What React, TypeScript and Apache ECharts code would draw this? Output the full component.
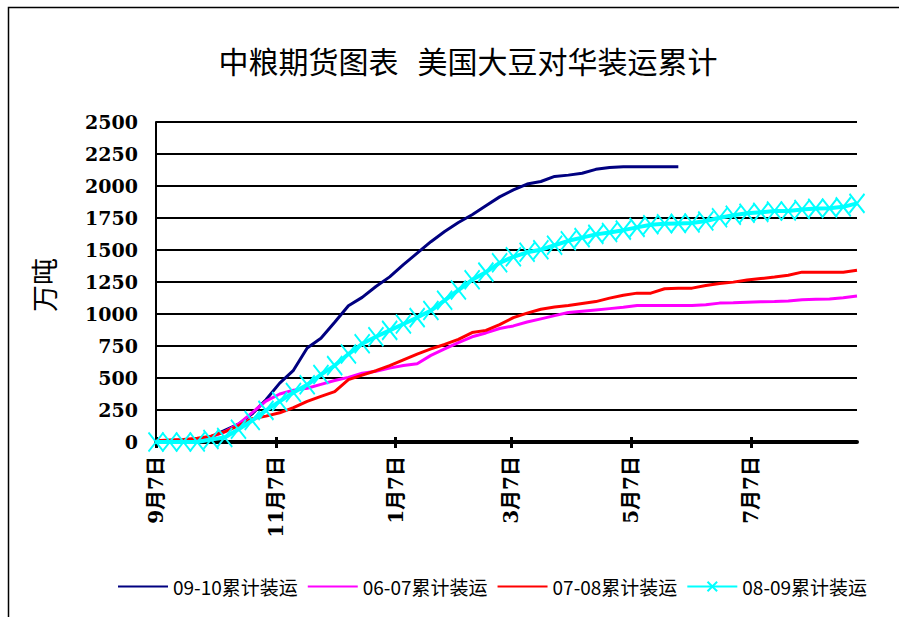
import React, { useEffect, useRef } from "react";
import * as echarts from "echarts";

// x positions are days since 9月7日; one reading per week
const weekStep = 7;
const tickDays = [0, 61, 122, 181, 242, 303];
const tickLabels = ["9月7日", "11月7日", "1月7日", "3月7日", "5月7日", "7月7日"];
const yTicks = [0, 250, 500, 750, 1000, 1250, 1500, 1750, 2000, 2250, 2500];

const seriesNames = ["09-10累计装运", "06-07累计装运", "07-08累计装运", "08-09累计装运"];

const s0910 = [
  10, 12, 15, 20, 40, 90, 140, 220, 330, 460, 560, 735, 810, 935, 1065, 1130, 1215, 1290, 1385, 1475,
  1565, 1645, 1715, 1775, 1845, 1915, 1970, 2015, 2035, 2075, 2085, 2100, 2130, 2145, 2150, 2150, 2150,
  2150, 2150,
];
const s0607 = [
  5, 8, 12, 20, 40, 80, 140, 230, 320, 375, 405, 420, 450, 480, 505, 537, 552, 577, 597, 612, 677, 727,
  777, 822, 852, 887, 907, 937, 962, 987, 1012, 1022, 1032, 1042, 1052, 1067, 1067, 1067, 1067, 1067,
  1072, 1085, 1087, 1092, 1095, 1097, 1101, 1112, 1115, 1117, 1127, 1140,
];
const s0708 = [
  10, 15, 20, 30, 45, 80, 128, 182, 202, 228, 268, 318, 357, 393, 487, 522, 557, 597, 642, 687, 727, 762,
  802, 855, 872, 917, 972, 1007, 1037, 1054, 1067, 1082, 1097, 1124, 1147, 1163, 1163, 1197, 1202, 1202,
  1222, 1239, 1249, 1265, 1277, 1289, 1303, 1327, 1327, 1327, 1327, 1342,
];
const s0809 = [
  0, 0, 0, 0, 20, 35, 100, 168, 247, 317, 387, 447, 527, 597, 687, 767, 822, 872, 922, 972, 1027, 1107,
  1187, 1267, 1327, 1400, 1447, 1482, 1502, 1537, 1572, 1597, 1622, 1637, 1655, 1677, 1697, 1705, 1708,
  1711, 1727, 1752, 1772, 1787, 1794, 1805, 1805, 1817, 1825, 1827, 1837, 1864,
];

const toPoints = (vals: number[]) => vals.map((v, i) => [i * weekStep, v]);

export default function App() {
  const ref = useRef<HTMLDivElement>(null);
  useEffect(() => {
    if (!ref.current) return;
    const chart = echarts.init(ref.current, null, { renderer: "svg" });
    const axisFont = {
      fontFamily: "'DejaVu Serif', 'Noto Sans CJK SC', serif",
      fontWeight: "bold" as const,
      color: "#000",
    };
    const lastDay = (s0809.length - 1) * weekStep;
    const plainLine = (color: string) => ({
      type: "line" as const,
      symbol: "circle",
      showSymbol: false,
      lineStyle: { color, width: 3 },
      itemStyle: { color: "rgba(0,0,0,0)", borderWidth: 0 },
    });
    chart.setOption({
      animation: false,
      backgroundColor: "#fff",
      title: {
        text: "中粮期货图表  美国大豆对华装运累计",
        left: 463,
        top: 42,
        textAlign: "center",
        textStyle: {
          fontFamily: "'DejaVu Sans', 'Noto Sans CJK SC', sans-serif",
          fontSize: 30,
          fontWeight: "normal",
          color: "#000",
        },
      },
      graphic: [
        {
          type: "rect",
          left: 6,
          top: 5,
          shape: { width: 900, height: 620 },
          style: { fill: "none", stroke: "#000", lineWidth: 1.5 },
          silent: true,
        },
        {
          type: "text",
          x: 43,
          y: 285,
          rotation: Math.PI / 2,
          style: {
            text: "万吨",
            fontFamily: "'Noto Sans CJK SC', sans-serif",
            fontSize: 27,
            fill: "#000",
            align: "center",
            verticalAlign: "middle",
          },
        },
      ],
      legend: {
        data: seriesNames,
        left: 112,
        top: 572,
        itemWidth: 50,
        itemHeight: 12,
        itemGap: 9,
        textStyle: {
          fontFamily: "'Noto Sans CJK SC', sans-serif",
          fontSize: 19,
          color: "#000",
        },
      },
      grid: { left: 156, right: 42, top: 122, bottom: 175 },
      xAxis: [
        {
          type: "value",
          min: 0,
          max: lastDay,
          axisLine: { show: true, lineStyle: { color: "#000", width: 4 } },
          axisTick: { show: true, customValues: tickDays, length: 6, lineStyle: { color: "#000", width: 3 } },
          axisLabel: {
            customValues: tickDays,
            rotate: 90,
            margin: 14,
            fontSize: 20,
            ...axisFont,
            formatter: (v: number) => {
              const k = tickDays.indexOf(v);
              return k >= 0 ? tickLabels[k] : "";
            },
          },
          splitLine: { show: false },
        },
        {
          type: "value",
          min: 0,
          max: lastDay,
          position: "bottom",
          axisLine: { show: false },
          axisTick: {
            show: true,
            inside: true,
            customValues: tickDays,
            length: 5,
            lineStyle: { color: "#000", width: 3 },
          },
          axisLabel: { show: false },
          splitLine: { show: false },
        },
      ],
      yAxis: {
        type: "value",
        min: 0,
        max: 2500,
        interval: 250,
        axisLine: { show: true, lineStyle: { color: "#000", width: 2 } },
        axisTick: { show: false },
        axisLabel: {
          customValues: yTicks,
          margin: 18,
          fontSize: 19,
          ...axisFont,
          formatter: (v: number) => String(v),
        },
        splitLine: { show: true, lineStyle: { color: "#000", width: 2 } },
      },
      series: [
        { name: seriesNames[0], data: toPoints(s0910), ...plainLine("#000080") },
        { name: seriesNames[1], data: toPoints(s0607), ...plainLine("#FF00FF") },
        { name: seriesNames[2], data: toPoints(s0708), ...plainLine("#FF0000") },
        {
          name: seriesNames[3],
          type: "line",
          data: toPoints(s0809),
          symbol: "path://M0,0L10,12M10,0L0,12",
          symbolSize: [15, 19],
          showSymbol: true,
          lineStyle: { color: "#00FFFF", width: 4 },
          itemStyle: { color: "#00FFFF", borderColor: "#00FFFF", borderWidth: 2 },
        },
      ],
    });
    return () => chart.dispose();
  }, []);
  return (
    <div
      ref={ref}
      style={{ position: "fixed", left: 0, top: 0, width: 899, height: 617, background: "#fff" }}
    />
  );
}
